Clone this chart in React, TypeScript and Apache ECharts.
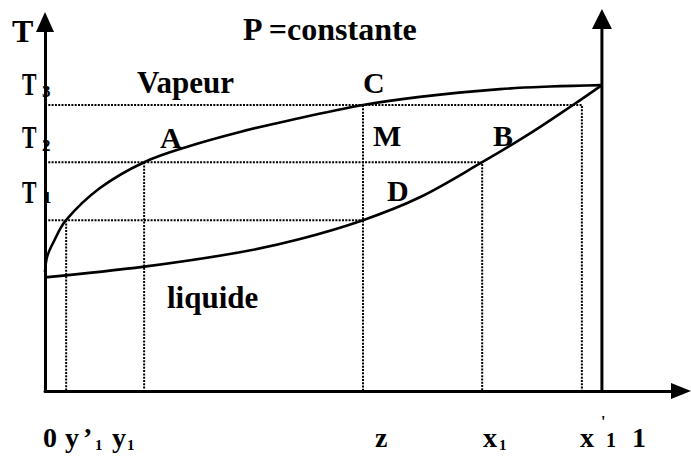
import React, { useEffect, useRef } from "react";
import * as echarts from "echarts";

// Compositions marked on the abscissa
const compositionNames = ["y'1", "y1", "z", "x1", "x'1"];
const compositions = [0.038, 0.178, 0.571, 0.785, 0.964];

// Isotherms T1, T2, T3 (relative temperature scale)
const temperatureNames = ["T1", "T2", "T3"];
const temperatures = [46.3, 62.0, 77.5];

// Dew curve (vapour side)
const vapourX = [0, 0.0036, 0.0144, 0.0377, 0.0987, 0.178, 0.26, 0.35, 0.44, 0.571, 0.673, 0.817, 0.907, 1];
const vapourT = [32.2, 36.3, 40.1, 46.3, 55.0, 62.0, 66.4, 70.2, 73.4, 77.5, 79.7, 81.8, 82.5, 82.9];

// Bubble curve (liquid side)
const liquidX = [0, 0.178, 0.35, 0.458, 0.571, 0.673, 0.785, 0.871, 0.948, 1];
const liquidT = [30.8, 33.7, 37.6, 41.2, 46.3, 52.5, 62.0, 69.8, 77.5, 82.9];

// Axis extents and the top of the x = 1 ordinate
const xMax = 1.142;
const tMax = 100;
const pureTop = 100.8;

const GRID = { left: 45, right: 10, top: 22, bottom: 68 };
const FONT = '"Liberation Serif", "Times New Roman", serif';

const zip = (xs: number[], ys: number[]) => xs.map((x, i) => [x, ys[i]]);

const [yp1, y1, z, x1, xp1] = compositions;
const [T1, T2, T3] = temperatures;

const dotted = {
  color: "#000",
  width: 2,
  type: [2, 1.3] as number[],
};

const guide = (name: string, data: number[][]) => ({
  name,
  type: "line",
  data,
  symbol: "none",
  silent: true,
  lineStyle: dotted,
});

const solid = (name: string, data: number[][], width: number, smooth: number) => ({
  name,
  type: "line",
  data,
  symbol: "none",
  silent: true,
  smooth,
  lineStyle: { color: "#000", width },
});

const text = (
  t: string,
  x: number,
  y: number,
  size: number,
  extra: Record<string, unknown> = {}
) => ({
  type: "text",
  x,
  y,
  ...extra,
  style: {
    text: t,
    fill: "#000",
    fontSize: size,
    fontWeight: "bold",
    fontFamily: FONT,
    align: "left",
    verticalAlign: "middle",
  },
});

// Filled arrow head centred on the given end point
const arrowHead = (ex: number, ey: number, dir: "up" | "right", w: number, h: number) => {
  const pts =
    dir === "up"
      ? [[ex, ey - h / 2], [ex + w / 2, ey + h / 2], [ex - w / 2, ey + h / 2]]
      : [[ex + h / 2, ey], [ex - h / 2, ey + w / 2], [ex - h / 2, ey - w / 2]];
  return { type: "polygon", z: 100, shape: { points: pts }, style: { fill: "#000" } };
};

const labels = [
  text("T", 12, 31, 32),
  text("P =constante", 243, 29, 32),
  text("Vapeur", 137, 82, 31),
  text("liquide", 167, 297, 31),
  text("C", 363, 82, 30),
  text("M", 373, 135, 30),
  text("A", 160, 137, 30),
  text("B", 493, 135, 30),
  text("D", 387, 190, 30),
  // isotherm names beside the ordinate
  text("T", 22, 84, 32, { scaleX: 0.68 }),
  text("3", 42, 91, 17),
  text("T", 22, 137.5, 32, { scaleX: 0.68 }),
  text("2", 42, 145, 17),
  text("T", 22, 192.5, 32, { scaleX: 0.68 }),
  text("1", 43, 197, 17),
  // abscissa names
  text("0", 43, 437.5, 28),
  text("y", 65, 437.5, 28),
  text("\u2019", 83, 437.5, 28),
  text("1", 95, 445, 15),
  text("y", 112, 437.5, 28),
  text("1", 127, 445, 15),
  text("z", 375, 437.5, 28),
  text("x", 483, 437.5, 28),
  text("1", 499, 445, 15),
  text("x", 580, 437.5, 28),
  text("'", 601, 421, 16),
  text("1", 606, 440, 20),
  text("1", 632, 437.5, 28),
];

export default function App() {
  const ref = useRef<HTMLDivElement>(null);

  useEffect(() => {
    document.body.style.margin = "0";
    if (!ref.current) return;
    const chart = echarts.init(ref.current, null, { renderer: "svg" });

    const axis = (max: number) => ({
      type: "value",
      min: 0,
      max,
      axisLine: { show: true, lineStyle: { color: "#000", width: 3 } },
      axisTick: { show: false },
      axisLabel: { show: false },
      splitLine: { show: false },
    });

    chart.setOption({
      animation: false,
      backgroundColor: "#fff",
      grid: GRID,
      xAxis: axis(xMax),
      yAxis: axis(tMax),
      series: [
        guide(temperatureNames[0], [[0, T1], [z, T1]]),
        guide(temperatureNames[1], [[0, T2], [x1, T2], [x1, 0]]),
        guide(temperatureNames[2], [[0, T3], [xp1, T3], [xp1, 0]]),
        guide(compositionNames[0], [[yp1, T1], [yp1, 0]]),
        guide(compositionNames[1], [[y1, T2], [y1, 0]]),
        guide(compositionNames[2], [[z, T3], [z, 0]]),
        solid("Vapeur", zip(vapourX, vapourT), 2.6, 0.35),
        solid("liquide", zip(liquidX, liquidT), 2.6, 0.35),
        { ...solid("x = 1", [[1, 0], [1, pureTop]], 3, 0), clip: false },
      ],
    });

    // arrow heads: top of the T axis (grid corner), end of the x axis, top of x = 1
    const px = (p: number[]) => chart.convertToPixel({ gridIndex: 0 }, p) as number[];
    const xEnd = px([xMax, 0]);
    const pureEnd = px([1, pureTop]);
    chart.setOption({
      graphic: [
        arrowHead(GRID.left, GRID.top, "up", 18, 20),
        arrowHead(xEnd[0], xEnd[1], "right", 16, 20),
        arrowHead(pureEnd[0], pureEnd[1], "up", 20, 20),
        ...labels,
      ],
    });

    return () => chart.dispose();
  }, []);

  return <div ref={ref} style={{ width: 691, height: 459 }} />;
}
